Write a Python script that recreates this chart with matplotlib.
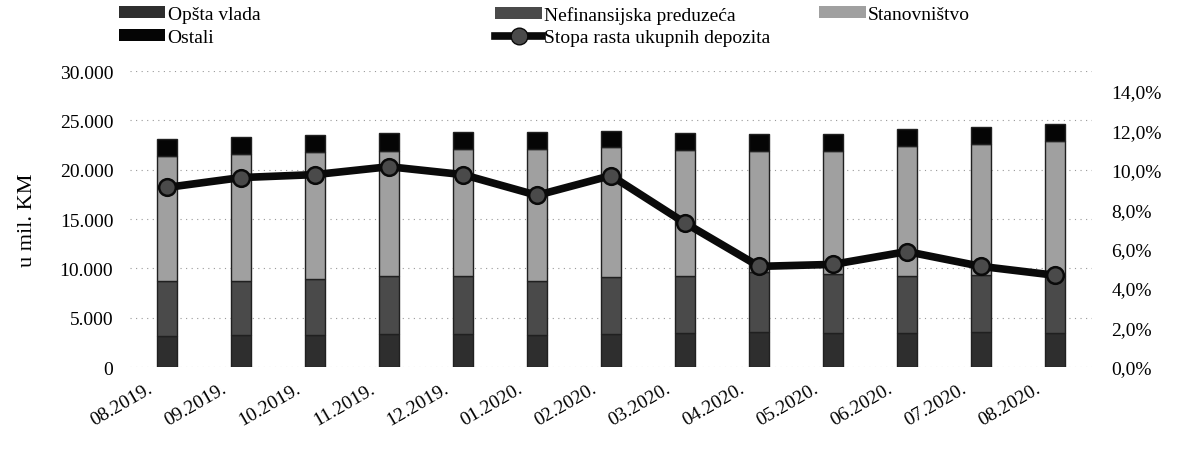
import matplotlib
matplotlib.use("Agg")
import matplotlib.pyplot as plt
import matplotlib.transforms as mtransforms
import numpy as np
from matplotlib.patches import Patch
from matplotlib.lines import Line2D
from matplotlib.ticker import FuncFormatter, FixedLocator

months = ["08.2019.", "09.2019.", "10.2019.", "11.2019.", "12.2019.", "01.2020.",
          "02.2020.", "03.2020.", "04.2020.", "05.2020.", "06.2020.", "07.2020.", "08.2020."]
opsta_vlada = [3100, 3200, 3200, 3300, 3300, 3200, 3300, 3400, 3500, 3400, 3400, 3500, 3400]
nefinansijska = [5600, 5500, 5700, 5900, 5900, 5500, 5800, 5800, 6100, 6000, 5800, 5800, 5800]
stanovnistvo = [12700, 12900, 12900, 12700, 12900, 13400, 13200, 12800, 12300, 12500, 13200, 13300, 13700]
ostali = [1700, 1700, 1700, 1800, 1700, 1700, 1600, 1700, 1700, 1700, 1700, 1700, 1700]
stopa_rasta = [9.1, 9.6, 9.75, 10.15, 9.75, 8.7, 9.7, 7.3, 5.1, 5.2, 5.85, 5.1, 4.65]

labels_series = ["Opšta vlada", "Nefinansijska preduzeća", "Stanovništvo", "Ostali",
                 "Stopa rasta ukupnih depozita"]
colors = ["#2e2e2e", "#4a4a4a", "#a0a0a0", "#050505"]

plt.rcParams['font.family'] = ['Liberation Serif', 'DejaVu Serif']

fig = plt.figure(figsize=(11.85, 4.52), dpi=100)
ax = fig.add_axes([0.1097, 0.1858, 0.8118, 0.6549])
ax2 = ax.twinx()

x = np.arange(len(months))
w = 0.28
series = [opsta_vlada, nefinansijska, stanovnistvo, ostali]
bottom = np.zeros(len(months))
for vals, c in zip(series, colors):
    ax.bar(x, vals, w, bottom=bottom, color=c, edgecolor='#202020', lw=1.0, zorder=2)
    bottom += np.array(vals)

ax2.plot(x, stopa_rasta, color='#0a0a0a', lw=5.5, marker='o', ms=12,
         mfc='#4a4a4a', mec='#0a0a0a', mew=1.8, zorder=3)

ax.set_xlim(-0.5, len(months) - 0.5)
ax.set_ylim(0, 30000)
ax.yaxis.set_major_locator(FixedLocator(np.arange(0, 30001, 5000)))
ax.yaxis.set_major_formatter(FuncFormatter(lambda v, p: f"{int(v):,}".replace(",", ".")))
ax2.set_ylim(0, 15)
ax2.yaxis.set_major_locator(FixedLocator(np.arange(0, 14.1, 2)))
ax2.yaxis.set_major_formatter(FuncFormatter(lambda v, p: f"{v:.1f}%".replace(".", ",")))

ax.grid(axis='y', color='#999999', linestyle=(0, (1, 4)), lw=0.8, zorder=0)
for a in (ax, ax2):
    for s in a.spines.values():
        s.set_visible(False)
    a.tick_params(length=0)
ax.tick_params(axis='y', labelsize=14, pad=12)
ax2.tick_params(axis='y', labelsize=14, pad=14)
ax.set_xticks(x)
ax.set_xticklabels(months, rotation=30, ha='right', rotation_mode='anchor', fontsize=14)
ax.tick_params(axis='x', pad=9)
offset = mtransforms.ScaledTranslation(-20 / 100, 0, fig.dpi_scale_trans)
for lbl in ax.get_xticklabels():
    lbl.set_transform(lbl.get_transform() + offset)
ax.set_ylabel("u mil. KM", fontsize=16, labelpad=16)

h_ov = Patch(facecolor=colors[0])
h_nf = Patch(facecolor=colors[1])
h_st = Patch(facecolor=colors[2])
h_os = Patch(facecolor=colors[3])
h_line = Line2D([], [], color='#0a0a0a', lw=5.5, marker='o', ms=12, mfc='#4a4a4a', mec='#0a0a0a')

common = dict(frameon=False, fontsize=14, handlelength=2.4, handleheight=0.55,
              handletextpad=0.12, labelspacing=0.3, borderaxespad=0, borderpad=0)
fig.legend([h_ov, h_os], [labels_series[0], labels_series[3]], loc='upper left',
           bbox_to_anchor=(0.1, 0.985), **common)
fig.legend([h_nf, h_line], [labels_series[1], labels_series[4]], loc='upper left',
           bbox_to_anchor=(0.418, 0.985), **common)
fig.legend([h_st], [labels_series[2]], loc='upper left',
           bbox_to_anchor=(0.691, 0.985), **common)

fig.savefig("out.png", dpi=100)
